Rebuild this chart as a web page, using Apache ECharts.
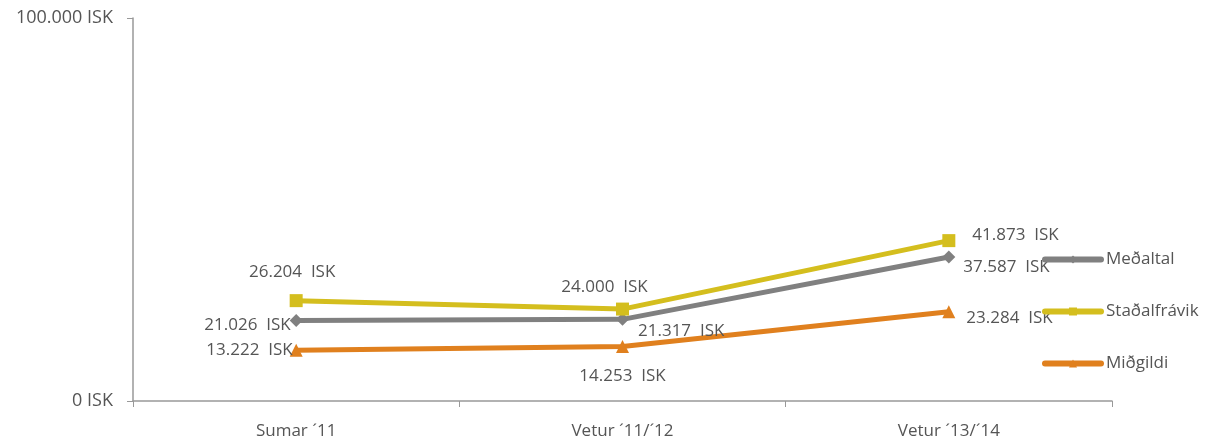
<!DOCTYPE html>
<html><head><meta charset="utf-8">
<script src="https://cdn.jsdelivr.net/npm/echarts@6/dist/echarts.min.js"></script>
<style>html,body{margin:0;padding:0;background:#fff}#c{width:1220px;height:445px}</style>
</head><body><div id="c"></div>
<script>
var categories = ['Sumar \u00b411', 'Vetur \u00b411/\u00b412', 'Vetur \u00b413/\u00b414'];
var medaltal = [21026, 21317, 37587];
var stadalfravik = [26204, 24000, 41873];
var midgildi = [13222, 14253, 23284];
var yTicks = [0, 100000];
var seriesNames = ['Me\u00f0altal', 'Sta\u00f0alfr\u00e1vik', 'Mi\u00f0gildi'];

var font = 'Open Sans';
function fmt(v, sep){ return v.toString().replace(/\B(?=(\d{3})+(?!\d))/g, '.') + (sep || ' ') + 'ISK'; }
function mk(vals, positions, offsets){
  return vals.map(function(v,i){
    return {value: v, label: {position: positions[i], offset: offsets[i]}};
  });
}
var chart = echarts.init(document.getElementById('c'));
var lbl = {show: true, formatter: function(p){return fmt(p.value, '  ');}, color: '#555', fontFamily: font, fontSize: 17};
chart.setOption({
  animation: false,
  grid: {left: 133, right: 108, top: 18, bottom: 44},
  legend: {
    orient: 'vertical', left: 1037, top: 246, itemWidth: 56, itemHeight: 10, itemGap: 35,
    lineStyle: {width: 6, cap: 'round'},
    textStyle: {color: '#555', fontFamily: font, fontSize: 17},
    data: seriesNames
  },
  xAxis: {
    type: 'category', data: categories, boundaryGap: true,
    axisLine: {lineStyle: {color: '#999', width: 1.5}},
    axisTick: {show: true, length: 6, lineStyle: {color: '#999'}},
    axisLabel: {color: '#555', fontFamily: font, fontSize: 17, margin: 22}
  },
  yAxis: {
    type: 'value', min: yTicks[0], max: yTicks[1], interval: yTicks[1] - yTicks[0],
    splitLine: {show: false},
    axisLine: {show: true, lineStyle: {color: '#999', width: 1.5}},
    axisTick: {show: true, length: 6, lineStyle: {color: '#999'}},
    axisLabel: {color: '#555', fontFamily: font, fontSize: 18, margin: 20, formatter: function(v){return fmt(v);}}
  },
  series: [
    {name: seriesNames[0], type: 'line', symbol: 'diamond', symbolSize: 13, color: '#808080',
     lineStyle: {width: 5}, label: lbl,
     data: mk(medaltal, ['left', 'right', 'right'], [[6, 5], [4, 12], [3, 10]])},
    {name: seriesNames[1], type: 'line', symbol: 'rect', symbolSize: 13, color: '#d4be1e',
     lineStyle: {width: 5}, label: lbl,
     data: mk(stadalfravik, ['top', 'top', 'right'], [[-4, -8], [-18, -2], [12, -5]])},
    {name: seriesNames[2], type: 'line', symbol: 'triangle', symbolSize: 13, color: '#e0801e',
     lineStyle: {width: 5}, label: lbl,
     data: mk(midgildi, ['left', 'bottom', 'right'], [[8, 0], [0, 10], [6, 6]])}
  ]
});
</script></body></html>
